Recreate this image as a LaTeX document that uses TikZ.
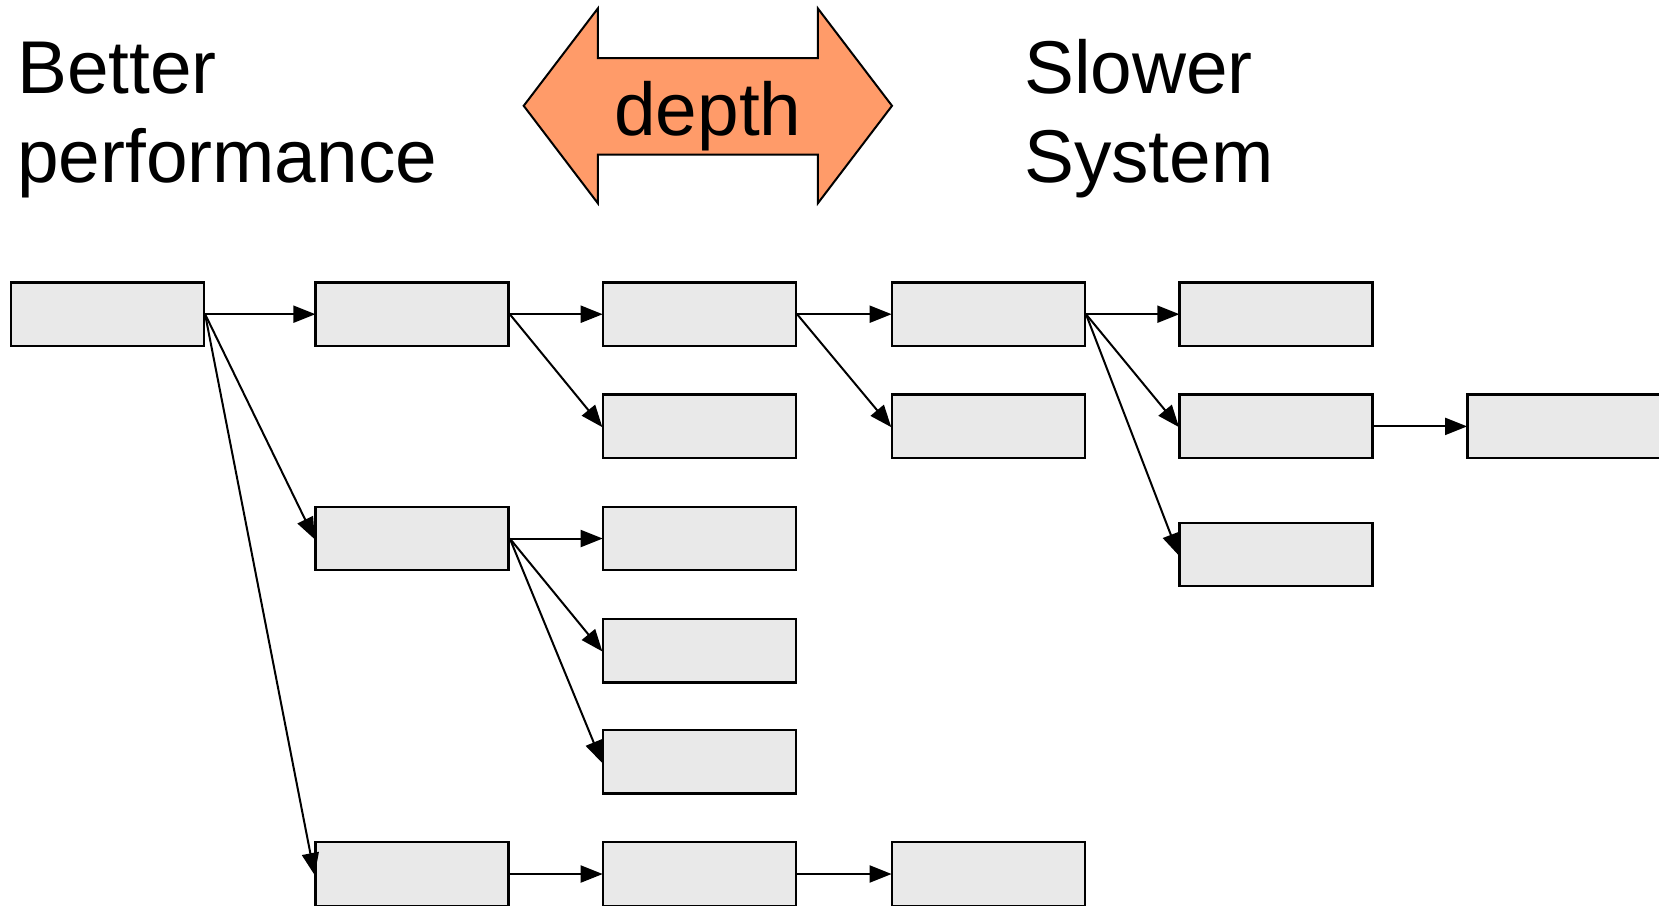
\documentclass[tikz,border=0pt]{standalone}
\usepackage{fontspec}
\setmainfont{Liberation Sans}
\usetikzlibrary{arrows.meta}
\definecolor{boxgray}{RGB}{233,233,233}
\definecolor{arroworange}{RGB}{255,155,105}
\begin{document}
\begin{tikzpicture}[x=1pt,y=-1pt,
  blk/.style={draw=black,line width=2.4pt,fill=boxgray,minimum width=193pt,minimum height=63.5pt,inner sep=0pt},
  conn/.style={line width=2pt,-{Triangle[length=22pt,width=17pt]},shorten >=-1pt},
  bigtext/.style={font=\fontsize{74.8}{89}\selectfont,inner sep=0pt}]
\useasboundingbox (0,0) rectangle (1659,905);
% headings
\node[bigtext,anchor=base west] (better) at (17,93) {Better};
\node[bigtext,anchor=base west] (perf) at (17,182) {performance};
\node[bigtext,anchor=base west] (slower) at (1024,93) {Slower};
\node[bigtext,anchor=base west] (system) at (1024,182) {System};
% double arrow
\draw[line width=2pt,fill=arroworange,line join=miter]
  (523.7,105.8) -- (597.8,8.5) -- (597.8,58.2) -- (817.9,58.2) -- (817.9,8.5)
  -- (892,105.8) -- (817.9,203.2) -- (817.9,154.5) -- (597.8,154.5) -- (597.8,203.2) -- cycle;
\node[bigtext,anchor=base] (depth) at (707.9,135.4) {depth};
% boxes
\node[blk] (a1) at (107.4,314.2) {};
\node[blk] (b1) at (412.1,314.2) {};
\node[blk] (b3) at (412.1,538.5) {};
\node[blk] (b6) at (412.1,874) {};
\node[blk] (c1) at (699.4,314.2) {};
\node[blk] (c2) at (699.4,426.4) {};
\node[blk] (c3) at (699.4,538.5) {};
\node[blk] (c4) at (699.4,650.7) {};
\node[blk] (c5) at (699.4,761.9) {};
\node[blk] (c6) at (699.4,874) {};
\node[blk] (d1) at (988.3,314.2) {};
\node[blk] (d2) at (988.3,426.4) {};
\node[blk] (d6) at (988.3,874) {};
\node[blk] (e1) at (1276.1,314.2) {};
\node[blk] (e2) at (1276.1,426.4) {};
\node[blk] (e3) at (1276.1,554.5) {};
\node[blk] (f2) at (1563.8,426.4) {};
% connectors
\draw[conn] (a1.east) -- (b1.west);
\draw[conn] (a1.east) -- (b3.west);
\draw[conn] (a1.east) -- (b6.west);
\draw[conn] (b1.east) -- (c1.west);
\draw[conn] (b1.east) -- (c2.west);
\draw[conn] (b3.east) -- (c3.west);
\draw[conn] (b3.east) -- (c4.west);
\draw[conn] (b3.east) -- (c5.west);
\draw[conn] (b6.east) -- (c6.west);
\draw[conn] (c1.east) -- (d1.west);
\draw[conn] (c1.east) -- (d2.west);
\draw[conn] (c6.east) -- (d6.west);
\draw[conn] (d1.east) -- (e1.west);
\draw[conn] (d1.east) -- (e2.west);
\draw[conn] (d1.east) -- (e3.west);
\draw[conn] (e2.east) -- (f2.west);
\end{tikzpicture}
\end{document}
